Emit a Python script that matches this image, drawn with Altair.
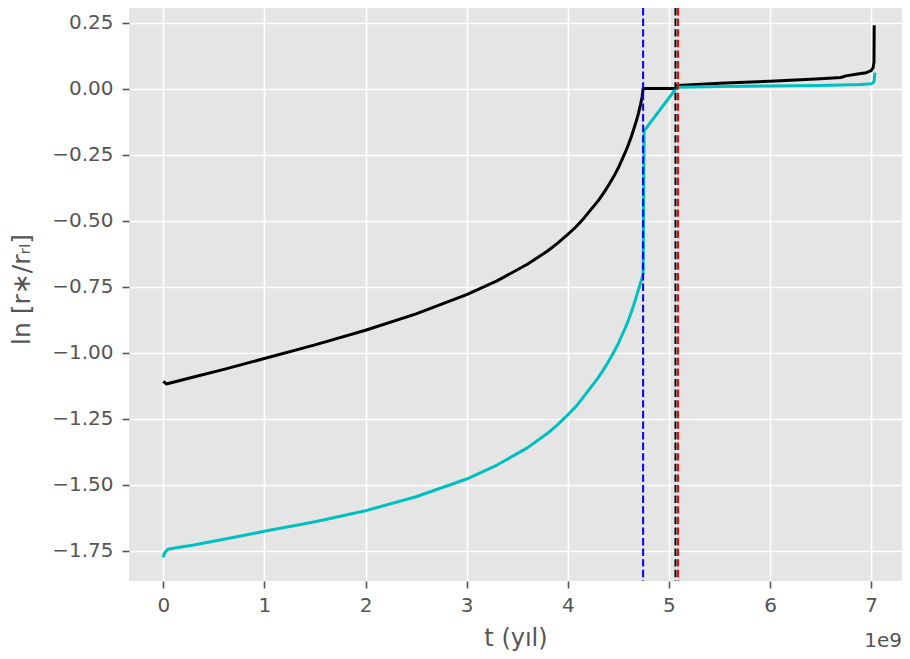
import altair as alt
import pandas as pd

# time in units of 1e9 years
t_black = [0.0, 0.03, 0.3, 0.6, 1.0, 1.5, 2.0, 2.5, 3.0, 3.3, 3.6, 3.8, 3.9, 4.0, 4.08, 4.15, 4.22,
           4.3, 4.36, 4.4, 4.45, 4.5, 4.54, 4.57, 4.6, 4.63, 4.655, 4.68, 4.7, 4.72, 4.735, 4.745,
           5.075, 5.085, 5.5, 6.0, 6.5, 6.7, 6.75, 6.85, 6.95, 7.0, 7.02, 7.028, 7.03]
v_black = [-1.108, -1.118, -1.092, -1.063, -1.022, -0.970, -0.915, -0.853, -0.780, -0.728, -0.665,
           -0.615, -0.585, -0.552, -0.524, -0.495, -0.462, -0.425, -0.392, -0.368, -0.336, -0.300,
           -0.266, -0.240, -0.212, -0.180, -0.150, -0.120, -0.092, -0.060, -0.032, 0.0,
           0.0, 0.012, 0.020, 0.028, 0.037, 0.042, 0.048, 0.054, 0.060, 0.068, 0.080, 0.100, 0.240]

t_cyan = [0.0, 0.01, 0.04, 0.1, 0.3, 0.6, 1.0, 1.5, 2.0, 2.5, 3.0, 3.3, 3.6, 3.8, 3.9, 4.0, 4.08,
          4.15, 4.22, 4.3, 4.36, 4.4, 4.45, 4.5, 4.54, 4.57, 4.6, 4.63, 4.655, 4.68, 4.7, 4.72,
          4.735, 4.745, 4.755, 5.08, 5.5, 6.0, 6.5, 6.9, 7.0, 7.02, 7.03, 7.037]
v_cyan = [-1.775, -1.760, -1.745, -1.740, -1.728, -1.706, -1.676, -1.640, -1.598, -1.545, -1.478,
          -1.425, -1.360, -1.305, -1.272, -1.235, -1.204, -1.170, -1.135, -1.095, -1.060, -1.035,
          -1.001, -0.965, -0.930, -0.905, -0.876, -0.845, -0.816, -0.785, -0.760, -0.735,
          -0.716, -0.700, -0.160, 0.005, 0.008, 0.010, 0.012, 0.015, 0.018, 0.022, 0.030, 0.060]

vline_t = [4.745, 5.065, 5.09]
vline_colors = ["#0000FF", "#000000", "#FF0000"]

x_ticks = [0, 1, 2, 3, 4, 5, 6, 7]
y_ticks = [-1.75, -1.5, -1.25, -1.0, -0.75, -0.5, -0.25, 0.0, 0.25]

W, H = 773, 573
FONT = "DejaVu Sans"
GREY = "#555555"

xs = alt.Scale(domain=[-0.339, 7.305], nice=False, zero=False)
ys = alt.Scale(domain=[-1.864, 0.305], nice=False, zero=False)

x_axis = alt.Axis(values=x_ticks, format="d", title="t (yıl)", titleY=64,
                  titleBaseline="alphabetic", labelPadding=7)
y_axis = alt.Axis(values=y_ticks, title="ln [r∗/rᵣₗ]",
                  labelExpr="replace(format(datum.value, '.2f'), '-', '\u2212')",
                  titleX=-100, titleY=281, titleAngle=270, titleBaseline="alphabetic",
                  titleAlign="center", titleFontSize=25, labelPadding=9)

df_b = pd.DataFrame({"t": t_black, "v": v_black, "i": list(range(len(t_black)))})
df_c = pd.DataFrame({"t": t_cyan, "v": v_cyan, "i": list(range(len(t_cyan)))})

black = alt.Chart(df_b).mark_line(color="#000000", strokeWidth=3, strokeJoin="round", clip=True).encode(
    x=alt.X("t:Q", scale=xs, axis=x_axis),
    y=alt.Y("v:Q", scale=ys, axis=y_axis),
    order="i:Q",
)
cyan = alt.Chart(df_c).mark_line(color="#00BFBF", strokeWidth=3, strokeJoin="round", clip=True).encode(
    x=alt.X("t:Q", scale=xs),
    y=alt.Y("v:Q", scale=ys),
    order="i:Q",
)

rules = []
for tv, col in zip(vline_t, vline_colors):
    rules.append(
        alt.Chart(pd.DataFrame({"t": [tv]})).mark_rule(
            color=col, strokeWidth=2, strokeDash=[7.4, 3.2]
        ).encode(x=alt.X("t:Q", scale=xs))
    )

offset_text = alt.Chart(pd.DataFrame({"s": ["1e9"]})).mark_text(
    align="right", baseline="alphabetic", font=FONT, fontSize=20, color=GREY
).encode(x=alt.value(W), y=alt.value(H + 66), text="s:N")

chart = alt.layer(black, cyan, *rules, offset_text).properties(
    width=W, height=H,
    autosize=alt.AutoSizeParams(type="none"),
    padding={"left": 121, "top": 0, "right": 0, "bottom": 78},
).configure_view(
    fill="#E5E5E5", strokeWidth=0
).configure_axis(
    domain=False, grid=True, gridColor="#FFFFFF", gridWidth=1.6,
    tickColor=GREY, tickWidth=1.6, tickSize=7,
    labelColor=GREY, labelFont=FONT, labelFontSize=20,
    titleColor=GREY, titleFont=FONT, titleFontSize=24, titleFontWeight="normal",
)

chart.save("out.html", embed_options={"renderer": "svg", "actions": False})
